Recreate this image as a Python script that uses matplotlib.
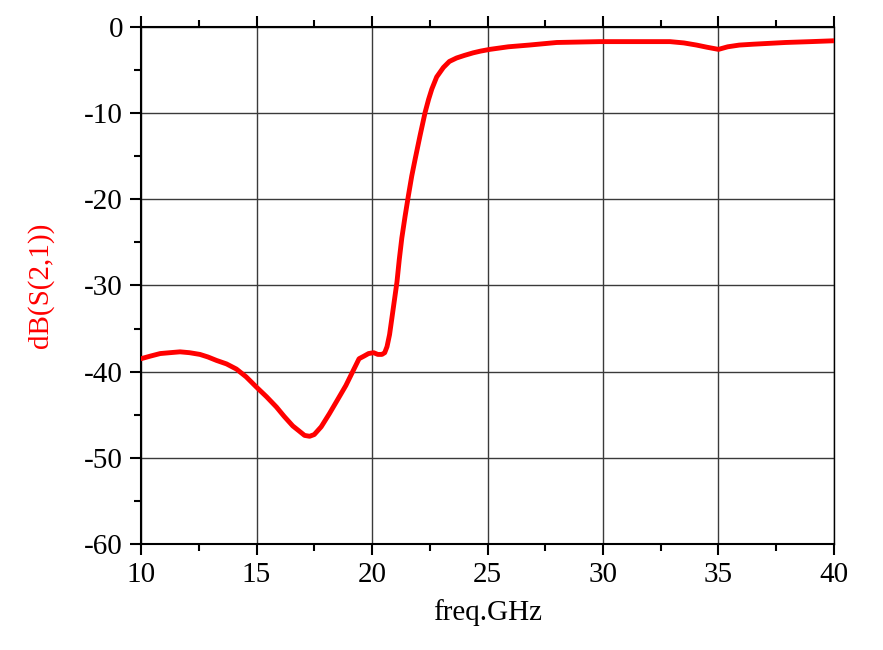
import numpy as np
import matplotlib.pyplot as plt
from matplotlib.ticker import MultipleLocator

# S21 response
freq = [10.0, 10.4, 10.83, 11.25, 11.69, 12.1, 12.55, 12.9, 13.27, 13.7, 14.13, 14.55,
        15.0, 15.43, 15.86, 16.2, 16.57, 16.85, 17.08, 17.3, 17.5, 17.8,
        18.15, 18.5, 18.87, 19.2, 19.44, 19.65, 19.85, 20.07, 20.25, 20.43, 20.55,
        20.65, 20.76, 20.86, 20.97, 21.08, 21.18, 21.29, 21.43,
        21.58, 21.72, 21.87, 22.08, 22.3, 22.45, 22.59, 22.8, 23.09, 23.35, 23.66,
        24.0, 24.38, 24.7, 25.1, 25.9, 26.8, 28.0, 29.86,
        31.5, 32.9, 33.5, 34.05, 34.5, 35.0, 35.4, 35.9, 36.5, 37.2, 37.9, 39.0, 40.0]
s21_db = [-38.5, -38.2, -37.9, -37.8, -37.7, -37.8, -38.0, -38.3, -38.7, -39.1, -39.7, -40.6,
          -41.8, -42.9, -44.1, -45.2, -46.3, -46.9, -47.4, -47.5, -47.3, -46.4,
          -44.9, -43.3, -41.6, -39.8, -38.5, -38.2, -37.9, -37.8, -38.0, -38.0, -37.8,
          -37.1, -35.7, -33.8, -31.7, -29.6, -27.0, -24.5, -22.0,
          -19.5, -17.3, -15.3, -12.6, -9.9, -8.4, -7.2, -5.8, -4.7, -4.0, -3.6,
          -3.3, -3.0, -2.8, -2.6, -2.3, -2.1, -1.8, -1.7,
          -1.7, -1.7, -1.85, -2.1, -2.35, -2.6, -2.3, -2.1, -2.0, -1.9, -1.8, -1.7, -1.6]

plt.rcParams['font.family'] = ['Liberation Serif', 'DejaVu Serif']
plt.rcParams['axes.unicode_minus'] = False

fig = plt.figure(figsize=(8.83, 6.5), dpi=100)
ax = fig.add_axes([0.1597, 0.1631, 0.7848, 0.7954])

ax.plot(freq, s21_db, color='red', linewidth=3.5, zorder=3, solid_joinstyle='round')

ax.set_xlim(10, 40)
ax.set_ylim(-60, 0)
ax.xaxis.set_major_locator(MultipleLocator(5))
ax.xaxis.set_minor_locator(MultipleLocator(2.5))
ax.yaxis.set_major_locator(MultipleLocator(10))
ax.yaxis.set_minor_locator(MultipleLocator(5))

ax.grid(True, which='major', color='#3a3a3a', linewidth=1)
ax.tick_params(which='both', direction='out', width=1.5, labelsize=21, pad=5,
               top=True, right=False, labeltop=False)
ax.tick_params(which='major', length=8)
ax.tick_params(which='minor', length=5)
for s in ax.spines.values():
    s.set_linewidth(1.5)
ax.spines['right'].set_linewidth(1)

ax.set_xlabel('freq.GHz', fontsize=21, labelpad=8)
ax.set_ylabel('dB(S(2,1))', fontsize=21, color='red', labelpad=22)

fig.savefig('out.png', dpi=100)
